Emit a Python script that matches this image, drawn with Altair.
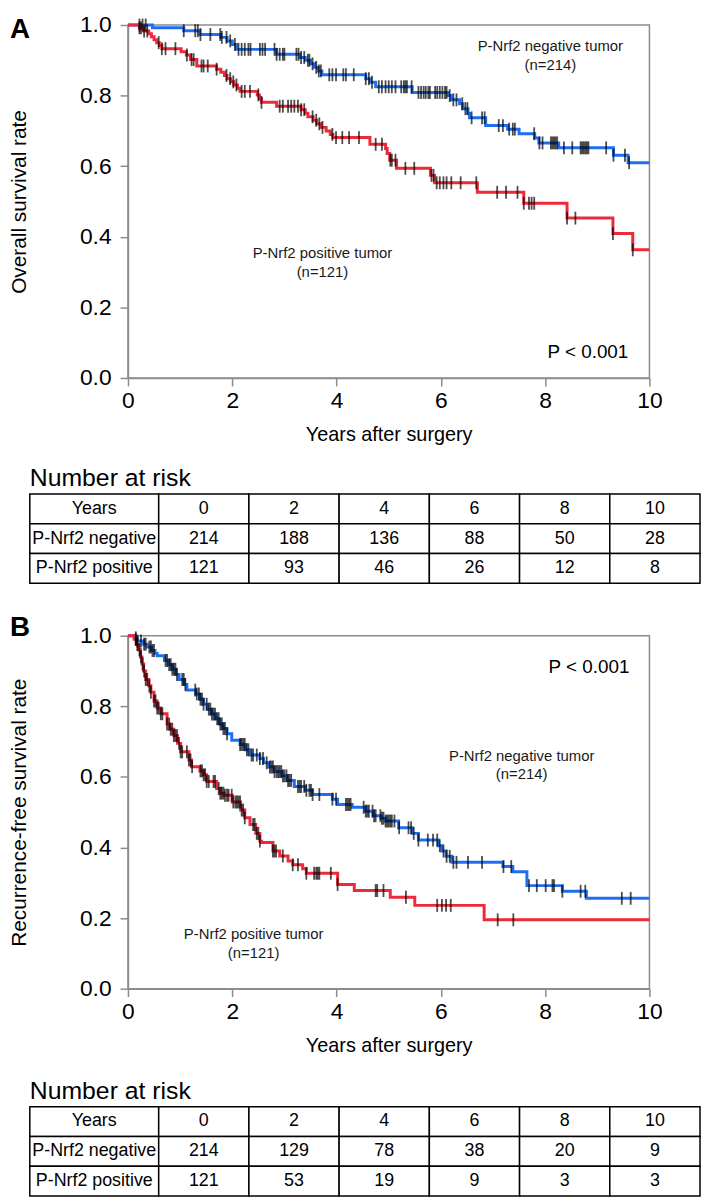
import altair as alt
import pandas as pd

FONT = "Liberation Sans"
BLUE = "#1f6ef0"
RED = "#ec2a3a"
GRAY = "#8c8c8c"

groups = ["P-Nrf2 negative", "P-Nrf2 positive"]
years = [0, 2, 4, 6, 8, 10]

# ---------------- Panel A: overall survival ----------------
os_neg_t = [0, 0.47, 1.07, 1.38, 1.78, 1.9, 2.0, 2.08, 2.85, 3.3, 3.4, 3.5, 3.58, 3.65, 3.72,
            4.56, 4.65, 4.75, 5.45, 6.14, 6.2, 6.36, 6.42, 6.52, 6.55, 6.86, 7.28, 7.5, 7.8,
            7.88, 8.26, 9.31, 9.59]
os_neg_s = [1.0, 0.992, 0.984, 0.973, 0.965, 0.955, 0.945, 0.931, 0.917, 0.908, 0.9, 0.89, 0.88,
            0.87, 0.859, 0.848, 0.838, 0.825, 0.809, 0.8, 0.788, 0.777, 0.763, 0.749, 0.737,
            0.715, 0.705, 0.692, 0.68, 0.666, 0.652, 0.631, 0.61]
os_pos_t = [0, 0.22, 0.3, 0.4, 0.45, 0.5, 0.55, 0.6, 0.65, 1.02, 1.12, 1.2, 1.32, 1.7, 1.78, 1.85,
            1.9, 1.97, 2.03, 2.1, 2.15, 2.48, 2.52, 2.56, 2.85, 3.32, 3.4, 3.45, 3.55, 3.62, 3.7,
            3.8, 3.88, 3.93, 4.64, 4.94, 4.97, 5.02, 5.15, 5.8, 5.88, 6.7, 7.59, 8.42, 9.3, 9.68]
os_pos_s = [1.0, 0.992, 0.983, 0.975, 0.967, 0.958, 0.95, 0.942, 0.933, 0.924, 0.915, 0.902, 0.884,
            0.875, 0.866, 0.857, 0.848, 0.839, 0.83, 0.821, 0.812, 0.802, 0.791, 0.781, 0.77,
            0.76, 0.75, 0.74, 0.73, 0.72, 0.71, 0.70, 0.69, 0.681, 0.662, 0.65, 0.636, 0.617,
            0.594, 0.574, 0.553, 0.526, 0.495, 0.453, 0.409, 0.363]
os_neg_cens = [0.22, 0.28, 0.34, 1.07, 1.29, 1.34, 1.39, 1.58, 1.77, 1.8, 1.89, 1.96, 2.05, 2.12,
               2.18, 2.24, 2.31, 2.35, 2.53, 2.58, 2.63, 2.81, 2.85, 2.91, 2.97, 3.0, 3.23, 3.27,
               3.32, 3.38, 3.45, 3.48, 3.54, 3.61, 3.66, 3.7, 3.86, 3.92, 3.99, 4.13, 4.18, 4.33,
               4.56, 4.62, 4.68, 4.81, 4.87, 4.94, 5.0, 5.06, 5.13, 5.24, 5.29, 5.32, 5.35, 5.44,
               5.57, 5.62, 5.67, 5.71, 5.76, 5.79, 5.89, 5.93, 5.98, 6.03, 6.08, 6.11, 6.17, 6.24,
               6.3, 6.41, 6.47, 6.51, 6.59, 6.79, 6.84, 7.11, 7.19, 7.31, 7.38, 7.42, 7.79, 7.89,
               7.95, 8.11, 8.14, 8.17, 8.2, 8.23, 8.36, 8.52, 8.68, 8.71, 8.74, 8.77, 8.8, 8.83,
               9.17, 9.31, 9.53, 9.61]
os_pos_cens = [0.22, 0.25, 0.31, 0.37, 0.59, 0.65, 0.72, 0.91, 1.13, 1.22, 1.26, 1.41, 1.45, 1.53,
               1.7, 1.89, 1.96, 2.02, 2.08, 2.18, 2.24, 2.34, 2.5, 2.56, 2.91, 2.97, 3.07, 3.13,
               3.19, 3.26, 3.32, 3.38, 3.54, 3.61, 3.67, 3.73, 3.92, 3.99, 4.11, 4.24, 4.43, 4.75,
               4.87, 5.03, 5.06, 5.13, 5.32, 5.49, 5.82, 5.86, 5.92, 5.98, 6.05, 6.11, 6.2, 6.38,
               6.68, 7.08, 7.25, 7.47, 7.59, 7.69, 7.74, 7.79, 8.42, 8.58, 9.3, 9.68]

# ---------------- Panel B: recurrence-free survival ----------------
rfs_neg_t = [0, 0.12, 0.18, 0.3, 0.37, 0.45, 0.52, 0.56, 0.7, 0.78, 0.85, 0.92, 0.98, 1.08, 1.13,
             1.3, 1.38, 1.45, 1.52, 1.6, 1.68, 1.75, 1.82, 1.9, 1.99, 2.15, 2.25, 2.34, 2.53,
             2.6, 2.7, 2.81, 2.95, 3.05, 3.19, 3.4, 3.54, 3.92, 4.02, 4.3, 4.55, 4.7, 4.85,
             4.94, 5.19, 5.45, 5.57, 5.95, 6.02, 6.1, 6.21, 7.19, 7.38, 7.65, 8.33, 8.79]
rfs_neg_s = [1.0, 0.994, 0.985, 0.976, 0.968, 0.958, 0.95, 0.943, 0.93, 0.918, 0.905, 0.89, 0.876,
             0.862, 0.846, 0.835, 0.82, 0.806, 0.792, 0.778, 0.765, 0.75, 0.737, 0.722, 0.704,
             0.692, 0.677, 0.662, 0.652, 0.64, 0.628, 0.615, 0.603, 0.59, 0.573, 0.562, 0.55,
             0.537, 0.522, 0.514, 0.503, 0.49, 0.483, 0.475, 0.456, 0.44, 0.421, 0.405, 0.39,
             0.375, 0.358, 0.346, 0.331, 0.292, 0.276, 0.256]
rfs_pos_t = [0, 0.12, 0.16, 0.2, 0.24, 0.27, 0.3, 0.34, 0.4, 0.44, 0.5, 0.56, 0.63, 0.75, 0.8,
             0.88, 0.95, 1.01, 1.17, 1.22, 1.38, 1.45, 1.51, 1.7, 1.77, 1.84, 2.0, 2.16, 2.24,
             2.34, 2.45, 2.53, 2.56, 2.78, 2.91, 3.07, 3.16, 3.35, 3.42, 4.02, 4.34, 5.03, 5.5, 6.83]
rfs_pos_s = [1.0, 0.99, 0.975, 0.96, 0.94, 0.92, 0.9, 0.876, 0.858, 0.84, 0.815, 0.795, 0.779,
             0.75, 0.735, 0.717, 0.695, 0.671, 0.648, 0.629, 0.617, 0.606, 0.587, 0.567, 0.554,
             0.548, 0.529, 0.506, 0.484, 0.465, 0.44, 0.418, 0.414, 0.39, 0.376, 0.362, 0.351,
             0.34, 0.327, 0.295, 0.278, 0.259, 0.236, 0.195]
rfs_neg_cens = [0.15, 0.18, 0.25, 0.31, 0.34, 0.41, 0.44, 0.47, 0.5, 0.72, 0.75, 0.79, 0.82, 0.85,
                0.88, 0.91, 0.94, 1.04, 1.07, 1.1, 1.29, 1.32, 1.36, 1.39, 1.42, 1.45, 1.51, 1.55,
                1.58, 1.61, 1.64, 1.67, 1.71, 1.74, 1.77, 1.8, 1.83, 1.86, 1.9, 2.15, 2.18, 2.21,
                2.24, 2.28, 2.31, 2.37, 2.4, 2.47, 2.53, 2.59, 2.66, 2.72, 2.75, 2.78, 2.81, 2.85,
                2.88, 2.91, 2.94, 2.97, 3.0, 3.04, 3.07, 3.1, 3.13, 3.26, 3.29, 3.32, 3.38, 3.42,
                3.48, 3.51, 3.54, 3.67, 3.92, 3.99, 4.18, 4.21, 4.24, 4.27, 4.52, 4.56, 4.59, 4.62,
                4.69, 4.72, 4.75, 4.84, 4.87, 4.9, 4.94, 4.97, 5.0, 5.03, 5.06, 5.11, 5.2, 5.38,
                5.43, 5.48, 5.57, 5.75, 5.85, 5.93, 5.98, 6.05, 6.11, 6.17, 6.24, 6.3, 6.52, 6.79,
                7.2, 7.35, 7.69, 7.84, 8.01, 8.14, 8.17, 8.33, 8.68, 8.77, 9.47, 9.64]
rfs_pos_cens = [0.15, 0.18, 0.22, 0.25, 0.28, 0.31, 0.34, 0.37, 0.41, 0.44, 0.5, 0.53, 0.56, 0.59,
                0.63, 0.66, 0.75, 0.79, 0.82, 0.85, 0.88, 0.91, 0.94, 0.98, 1.01, 1.04, 1.13, 1.17,
                1.2, 1.23, 1.39, 1.42, 1.45, 1.48, 1.51, 1.55, 1.64, 1.67, 1.74, 1.77, 1.8, 1.83,
                1.86, 1.9, 1.93, 1.99, 2.02, 2.06, 2.09, 2.12, 2.15, 2.18, 2.21, 2.24, 2.4, 2.43,
                2.47, 2.5, 2.53, 2.78, 2.81, 2.84, 2.97, 3.16, 3.26, 3.42, 3.57, 3.61, 3.64, 3.67,
                3.89, 4.02, 4.75, 4.78, 4.9, 5.33, 5.93, 6.02, 6.1, 6.19, 7.09, 7.39]

# ---------------- Number at risk ----------------
risk_os_neg = [214, 188, 136, 88, 50, 28]
risk_os_pos = [121, 93, 46, 26, 12, 8]
risk_rfs_neg = [214, 129, 78, 38, 20, 9]
risk_rfs_pos = [121, 53, 19, 9, 3, 3]

# annotation texts (text, years, rate)
ann_os = [("P-Nrf2 negative tumor", 8.1, 0.941), ("(n=214)", 8.1, 0.888),
          ("P-Nrf2 positive tumor", 3.73, 0.354), ("(n=121)", 3.73, 0.301)]
ann_rfs = [("P-Nrf2 negative tumor", 7.55, 0.66), ("(n=214)", 7.55, 0.607),
           ("P-Nrf2 positive tumor", 2.41, 0.154), ("(n=121)", 2.41, 0.101)]
p_os = ("P < 0.001", 8.82, 0.073)
p_rfs = ("P < 0.001", 8.84, 0.91)

W, H = 526, 356


def level_at(ts, ss, x):
    idx = 0
    for j, tj in enumerate(ts):
        if tj <= x:
            idx = j
    return ss[idx]


def curve_df(ts, ss, group):
    return pd.DataFrame({"t": list(ts) + [10], "s": list(ss) + [ss[-1]], "group": group})


def cens_df(ts, ss, cens, group):
    return pd.DataFrame({"t": cens, "s": [level_at(ts, ss, c) for c in cens], "group": group})


def km_panel(neg_t, neg_s, pos_t, pos_s, neg_c, pos_c, ytitle, ann, ptxt, letter, letter_y):
    curves = pd.concat([curve_df(neg_t, neg_s, groups[0]), curve_df(pos_t, pos_s, groups[1])])
    cens = pd.concat([cens_df(neg_t, neg_s, neg_c, groups[0]), cens_df(pos_t, pos_s, pos_c, groups[1])])
    ann_df = pd.DataFrame(ann, columns=["label", "t", "s"])
    p_df = pd.DataFrame([ptxt], columns=["label", "t", "s"])

    x = alt.X("t:Q", scale=alt.Scale(domain=[0, 10], nice=False, zero=False),
              axis=alt.Axis(values=years, title="Years after surgery", tickSize=8, labelPadding=4,
                            labelFontSize=23, titleFontSize=20, titlePadding=12, labelFlush=False,
                            labelOverlap=False))
    y = alt.Y("s:Q", scale=alt.Scale(domain=[0, 1], nice=False),
              axis=alt.Axis(values=[0, 0.2, 0.4, 0.6, 0.8, 1.0], format=".1f", title=ytitle,
                            tickSize=8, labelPadding=9, labelFontSize=23, titleFontSize=21,
                            titlePadding=50, labelFlush=False, labelOverlap=False))
    color = alt.Color("group:N", scale=alt.Scale(domain=groups, range=[BLUE, RED]), legend=None)

    lines = alt.Chart(curves).mark_line(interpolate="step-after", strokeWidth=3).encode(
        x=x, y=y, color=color, detail="group:N")
    ticks = alt.Chart(cens).mark_tick(orient="vertical", size=13, thickness=1.8, color="black").encode(
        x=x, y=y)
    labels = alt.Chart(ann_df).mark_text(fontSize=15, color="#1a1a1a").encode(x=x, y=y, text="label:N")
    ptext = alt.Chart(p_df).mark_text(fontSize=19, color="black").encode(x=x, y=y, text="label:N")
    let = alt.Chart(pd.DataFrame({"k": [letter]})).mark_text(
        fontSize=28, fontWeight="bold", align="left", baseline="alphabetic", color="black").encode(
        x=alt.value(-119), y=alt.value(letter_y), text="k:N")
    return alt.layer(lines, ticks, labels, ptext, let).properties(
        width=W, height=H, view=alt.ViewBackground(stroke=GRAY, strokeWidth=1.5))


col_widths = [130, 91, 91, 91, 91, 91, 91]
table_left = -99


def risk_table(neg, pos, top, title_y, height):
    edges = [table_left]
    for w in col_widths:
        edges.append(edges[-1] + w)
    rows = ["Years"] + groups
    vals = [[str(v) for v in years], [str(v) for v in neg], [str(v) for v in pos]]
    cells = []
    for r, row in enumerate(rows):
        texts = [row] + vals[r]
        for c, txt in enumerate(texts):
            cells.append({"row": row, "x0": edges[c], "x1": edges[c + 1],
                          "xc": (edges[c] + edges[c + 1]) / 2, "label": txt})
    df = pd.DataFrame(cells)
    yb = alt.Y("row:N", scale=alt.Scale(domain=rows, range=[top, top + 90], paddingInner=0,
                                        paddingOuter=0), axis=None)
    rects = alt.Chart(df).mark_rect(fill="white", stroke="black", strokeWidth=1.5).encode(
        x=alt.X("x0:Q", scale=None), x2="x1:Q", y=yb)
    txt = alt.Chart(df).mark_text(fontSize=18, color="black").encode(
        x=alt.X("xc:Q", scale=None), y=yb, text="label:N")
    head = alt.Chart(pd.DataFrame({"k": ["Number at risk"]})).mark_text(
        fontSize=25, align="left", baseline="alphabetic", color="black").encode(
        x=alt.value(table_left), y=alt.value(title_y), text="k:N")
    return alt.layer(rects, txt, head).properties(width=W, height=height)


panel_a = km_panel(os_neg_t, os_neg_s, os_pos_t, os_pos_s, os_neg_cens, os_pos_cens,
                   "Overall survival rate", ann_os, p_os, "A", 13)
panel_b = km_panel(rfs_neg_t, rfs_neg_s, rfs_pos_t, rfs_pos_s, rfs_neg_cens, rfs_pos_cens,
                   "Recurrence-free survival rate", ann_rfs, p_rfs, "B", 0)
table_a = risk_table(risk_os_neg, risk_os_pos, 117, 109, 260)
table_b = risk_table(risk_rfs_neg, risk_rfs_pos, 119, 111, 209)

chart = alt.vconcat(panel_a, table_a, panel_b, table_b, spacing=0, bounds="flush").properties(
    padding=0
).configure(font=FONT).configure_view(stroke=None).configure_axis(
    labelFont=FONT, titleFont=FONT, labelColor="black", titleColor="black",
    domainColor=GRAY, tickColor=GRAY, domainWidth=1.5, tickWidth=1.5, grid=False,
    titleFontWeight="normal"
)

chart.save("out.html", embed_options={"renderer": "svg", "actions": False})
